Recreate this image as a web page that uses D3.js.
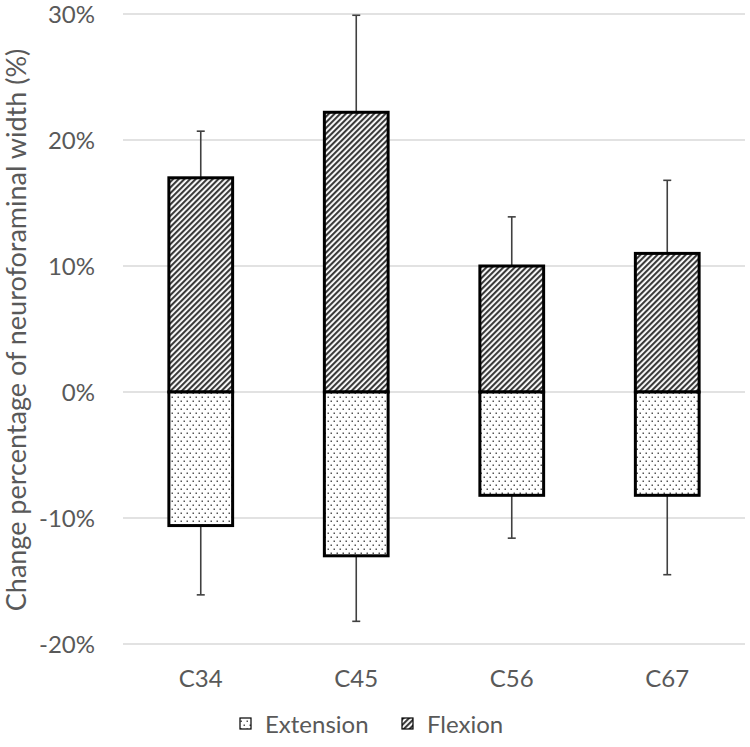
<!DOCTYPE html>
<html><head><meta charset="utf-8">
<script src="https://cdn.jsdelivr.net/npm/d3@7/dist/d3.min.js"></script>
<style>body{margin:0;background:#fff;}text{font-family:Lato,"Open Sans",sans-serif;}</style>
</head><body><svg id="c" width="750" height="747"></svg>
<script>
const categories = ["C34","C45","C56","C67"];
const flexion = [17.0, 22.2, 10.0, 11.0];
const flexionErr = [3.7, 7.7, 3.9, 5.8];
const extension = [-10.6, -13.0, -8.2, -8.2];
const extensionErr = [5.5, 5.2, 3.4, 6.3];
const yTicks = [-20,-10,0,10,20,30];
const seriesNames = ["Extension","Flexion"];

const svg = d3.select("#c");
const defs = svg.append("defs");
const hatch = defs.append("pattern").attr("id","hatch").attr("patternUnits","userSpaceOnUse")
  .attr("width",4).attr("height",4).attr("patternTransform","rotate(45)");
hatch.append("rect").attr("width",4).attr("height",4).attr("fill","#fff");
hatch.append("rect").attr("width",2.1).attr("height",4).attr("fill","#3a3a3a");
const dots = defs.append("pattern").attr("id","dots").attr("patternUnits","userSpaceOnUse")
  .attr("width",6).attr("height",8);
dots.append("rect").attr("width",6).attr("height",8).attr("fill","#fff");
dots.append("rect").attr("x",0.5).attr("y",0.5).attr("width",1.5).attr("height",1.5).attr("fill","#555");
dots.append("rect").attr("x",3.5).attr("y",4.5).attr("width",1.5).attr("height",1.5).attr("fill","#555");

const x = d3.scaleBand().domain(categories).range([123,745]).paddingInner(0.59).paddingOuter(0.295);
const y = d3.scaleLinear().domain([-20,30]).range([644,14]);

// gridlines
svg.append("g").selectAll("line").data(yTicks).join("line")
  .attr("x1",123).attr("x2",745).attr("y1",d=>y(d)).attr("y2",d=>y(d))
  .attr("stroke","#d9d9d9").attr("stroke-width",1.5);

// y labels
svg.append("g").selectAll("text").data(yTicks).join("text")
  .attr("x",95).attr("y",d=>y(d)).attr("dy","0.36em").attr("text-anchor","end")
  .attr("font-size",24).attr("fill","#595959").text(d=>d+"%");

// error bars
const eb = svg.append("g").attr("stroke","#404040").attr("stroke-width",1.6);
categories.forEach((c,i)=>{
  const cx = x(c)+x.bandwidth()/2;
  const top = flexion[i]+flexionErr[i];
  eb.append("line").attr("x1",cx).attr("x2",cx).attr("y1",y(flexion[i])).attr("y2",y(top));
  eb.append("line").attr("x1",cx-4).attr("x2",cx+4).attr("y1",y(top)).attr("y2",y(top));
  const bot = extension[i]-extensionErr[i];
  eb.append("line").attr("x1",cx).attr("x2",cx).attr("y1",y(extension[i])).attr("y2",y(bot));
  eb.append("line").attr("x1",cx-4).attr("x2",cx+4).attr("y1",y(bot)).attr("y2",y(bot));
});

// bars
svg.append("g").selectAll("rect").data(categories).join("rect")
  .attr("x",d=>x(d)).attr("width",x.bandwidth())
  .attr("y",(d,i)=>y(flexion[i])).attr("height",(d,i)=>y(0)-y(flexion[i]))
  .attr("fill","url(#hatch)").attr("stroke","#000").attr("stroke-width",3);
svg.append("g").selectAll("rect").data(categories).join("rect")
  .attr("x",d=>x(d)).attr("width",x.bandwidth())
  .attr("y",y(0)).attr("height",(d,i)=>y(extension[i])-y(0))
  .attr("fill","url(#dots)").attr("stroke","#000").attr("stroke-width",3);

// x labels
svg.append("g").selectAll("text").data(categories).join("text")
  .attr("x",d=>x(d)+x.bandwidth()/2).attr("y",687).attr("text-anchor","middle")
  .attr("font-size",24).attr("fill","#595959").text(d=>d);

// y title
svg.append("text").attr("transform","translate(26,330) rotate(-90)").attr("text-anchor","middle")
  .attr("font-size",27).attr("fill","#595959").text("Change percentage of neuroforaminal width (%)");

// legend
const leg = svg.append("g");
const legX = [240, 402];
const fills = ["url(#dots)","url(#hatch)"];
seriesNames.forEach((n,i)=>{
  leg.append("rect").attr("x",legX[i]).attr("y",718).attr("width",11).attr("height",11)
    .attr("fill",fills[i]).attr("stroke","#000").attr("stroke-width",1.2);
  leg.append("text").attr("x",legX[i]+25).attr("y",733)
    .attr("font-size",24).attr("fill","#595959").text(n);
});
</script></body></html>
